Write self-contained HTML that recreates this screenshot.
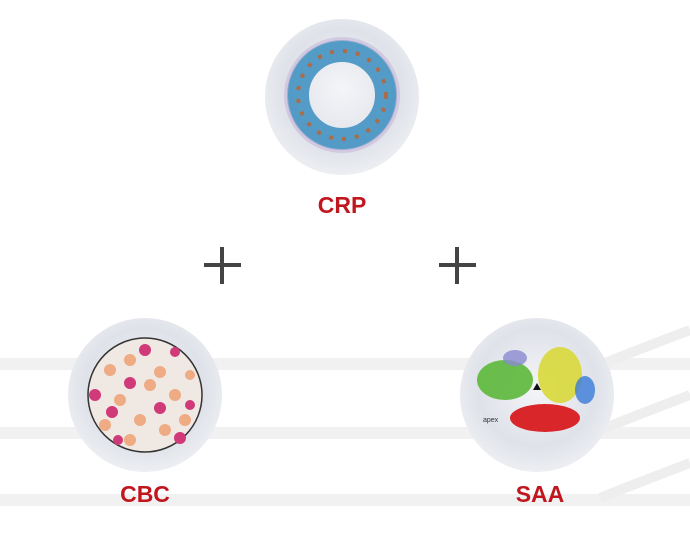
<!DOCTYPE html>
<html><head><style>html,body{margin:0;padding:0;background:#fff;}svg{display:block}</style></head>
<body>
<svg width="690" height="539" viewBox="0 0 690 539" xmlns="http://www.w3.org/2000/svg" font-family="Liberation Sans, sans-serif">
<defs>
<radialGradient id="g" cx="50%" cy="45%" r="55%">
<stop offset="0" stop-color="#f4f5f8"/><stop offset="0.7" stop-color="#dfe2e9"/><stop offset="1" stop-color="#eceef2"/>
</radialGradient>
</defs>
<g fill="#f1f1f1">
<rect x="0" y="358" width="690" height="12"/>
<rect x="0" y="427" width="690" height="12"/>
<rect x="0" y="494" width="690" height="12"/>
</g>
<path d="M600 365 Q650 345 690 330" stroke="#eee" stroke-width="10" fill="none"/>
<path d="M600 430 Q650 410 690 395" stroke="#eee" stroke-width="10" fill="none"/>
<path d="M600 498 Q650 478 690 463" stroke="#eee" stroke-width="10" fill="none"/>
<!-- CRP -->
<ellipse cx="342" cy="97" rx="77" ry="78" fill="url(#g)"/>
<circle cx="342" cy="95" r="44" fill="none" stroke="#3a8ec0" stroke-width="22" opacity="0.85"/>
<circle cx="342" cy="95" r="44" fill="none" stroke="#c0602a" stroke-width="4" stroke-dasharray="4 9" opacity="0.8"/>
<circle cx="342" cy="95" r="56" fill="none" stroke="#c8b8d8" stroke-width="4" opacity="0.6"/>
<text x="342" y="213" text-anchor="middle" font-size="23" font-weight="bold" fill="#c0171e">CRP</text>
<!-- plus -->
<g stroke="#444" stroke-width="4">
<line x1="204" y1="265" x2="241" y2="265"/><line x1="222" y1="247" x2="222" y2="284"/>
<line x1="439" y1="265" x2="476" y2="265"/><line x1="457" y1="247" x2="457" y2="284"/>
</g>
<!-- CBC -->
<ellipse cx="145" cy="395" rx="77" ry="77" fill="url(#g)"/>
<circle cx="145" cy="395" r="57" fill="#f0e8e2" stroke="#333" stroke-width="1.5"/>
<g fill="#eea57a" opacity="0.9">
<circle cx="110" cy="370" r="6"/><circle cx="130" cy="360" r="6"/><circle cx="160" cy="372" r="6"/><circle cx="175" cy="395" r="6"/><circle cx="120" cy="400" r="6"/><circle cx="140" cy="420" r="6"/><circle cx="165" cy="430" r="6"/><circle cx="105" cy="425" r="6"/><circle cx="185" cy="420" r="6"/><circle cx="150" cy="385" r="6"/><circle cx="130" cy="440" r="6"/><circle cx="190" cy="375" r="5"/>
</g>
<g fill="#d03a78">
<circle cx="145" cy="350" r="6"/><circle cx="175" cy="352" r="5"/><circle cx="95" cy="395" r="6"/><circle cx="112" cy="412" r="6"/><circle cx="160" cy="408" r="6"/><circle cx="130" cy="383" r="6"/><circle cx="180" cy="438" r="6"/><circle cx="118" cy="440" r="5"/><circle cx="190" cy="405" r="5"/>
</g>
<text x="145" y="502" text-anchor="middle" font-size="23" font-weight="bold" fill="#c0171e">CBC</text>
<!-- SAA -->
<ellipse cx="537" cy="395" rx="77" ry="77" fill="url(#g)"/>
<ellipse cx="505" cy="380" rx="28" ry="20" fill="#5cb83a" opacity="0.9"/>
<ellipse cx="560" cy="375" rx="22" ry="28" fill="#d8d83a" opacity="0.9"/>
<ellipse cx="585" cy="390" rx="10" ry="14" fill="#3a7ad8" opacity="0.8"/>
<ellipse cx="515" cy="358" rx="12" ry="8" fill="#8a8ad0" opacity="0.8"/>
<ellipse cx="545" cy="418" rx="35" ry="14" fill="#d8262a"/>
<polygon points="537,383 533,390 541,390" fill="#111"/>
<text x="483" y="422" font-size="7" fill="#333">apex</text>
<text x="540" y="502" text-anchor="middle" font-size="23" font-weight="bold" fill="#c0171e">SAA</text>
</svg>
</body></html>
